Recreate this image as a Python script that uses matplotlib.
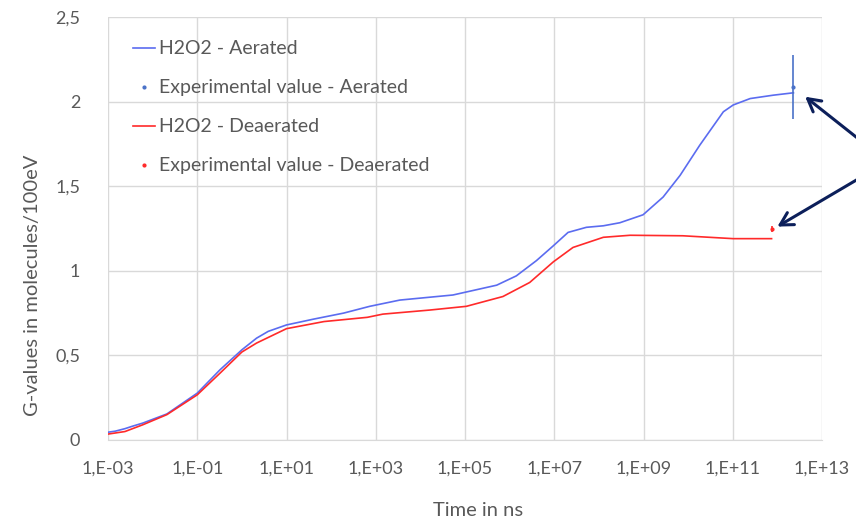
import numpy as np
import matplotlib.pyplot as plt
from matplotlib.lines import Line2D

# log10(time in ns) and G-values
aer_logt = [-3.0, -2.84, -2.62, -2.47, -2.22, -1.68, -1.0, -0.49, 0.0, 0.33, 0.59, 1.0,
            1.6, 2.28, 2.865, 3.54, 4.73, 5.71, 6.15, 6.60, 6.98, 7.31, 7.72, 8.10,
            8.47, 8.99, 9.44, 9.82, 10.26, 10.79, 11.01, 11.39, 11.91, 12.36]
aer_g = [0.046, 0.052, 0.067, 0.08, 0.10, 0.154, 0.277, 0.415, 0.533, 0.602, 0.642, 0.68,
         0.714, 0.75, 0.79, 0.827, 0.857, 0.915, 0.97, 1.06, 1.148, 1.227, 1.257, 1.266,
         1.284, 1.331, 1.436, 1.564, 1.742, 1.94, 1.98, 2.018, 2.038, 2.052]

deaer_logt = [-3.0, -2.62, -2.22, -1.68, -1.0, -0.49, 0.0, 0.33, 1.0, 1.84, 2.81, 3.16,
              4.21, 5.03, 5.85, 6.45, 6.98, 7.42, 8.10, 8.70, 9.88, 11.01, 11.87]
deaer_g = [0.035, 0.05, 0.09, 0.15, 0.267, 0.395, 0.52, 0.573, 0.658, 0.70, 0.725, 0.744,
           0.768, 0.79, 0.848, 0.931, 1.053, 1.138, 1.198, 1.21, 1.207, 1.19, 1.19]

exp_aer = (12.36, 2.085, 0.19)
exp_deaer = (11.87, 1.247, 0.02)

xtick_exp = [-3, -1, 1, 3, 5, 7, 9, 11, 13]
xtick_labels = ['1,E-03', '1,E-01', '1,E+01', '1,E+03', '1,E+05',
                '1,E+07', '1,E+09', '1,E+11', '1,E+13']
ytick_vals = [0, 0.5, 1, 1.5, 2, 2.5]
ytick_labels = ['0', '0,5', '1', '1,5', '2', '2,5']

blue = '#5b6cf0'
blue_exp = '#4a72c8'
red = '#ff2a2a'

plt.rcParams['font.family'] = ['Lato', 'DejaVu Sans']
W, H = 856, 522
fig = plt.figure(figsize=(W / 100, H / 100), dpi=100)
ax = fig.add_axes([108 / W, (H - 440) / H, (822 - 108) / W, (440 - 17) / H])

ax.plot(10.0 ** np.array(aer_logt), aer_g, color=blue, lw=1.2)
ax.errorbar(10.0 ** exp_aer[0], exp_aer[1], yerr=exp_aer[2], fmt='o', ms=2,
            color=blue_exp, ecolor=blue_exp, elinewidth=1.2, capsize=0)
ax.plot(10.0 ** np.array(deaer_logt), deaer_g, color=red, lw=1.2)
ax.errorbar(10.0 ** exp_deaer[0], exp_deaer[1], yerr=exp_deaer[2], fmt='o', ms=2,
            color=red, ecolor=red, elinewidth=1.2, capsize=0)

ax.set_xscale('log')
ax.set_xlim(1e-3, 1e13)
ax.set_ylim(0, 2.5)
ax.set_xticks([10.0 ** e for e in xtick_exp])
ax.set_xticklabels(xtick_labels)
ax.xaxis.set_minor_locator(plt.NullLocator())
ax.set_yticks(ytick_vals)
ax.set_yticklabels(ytick_labels)
ax.grid(True, color='#d9d9d9', lw=1)
ax.set_axisbelow(True)
for s in ['top', 'right', 'left']:
    ax.spines[s].set_visible(False)
ax.spines['bottom'].set_color('#d9d9d9')
ax.tick_params(axis='x', length=0, labelsize=13, labelcolor='#595959', pad=15)
ax.tick_params(axis='y', length=0, labelsize=13, labelcolor='#595959', pad=20)

handles = [
    Line2D([], [], color=blue, lw=1.2),
    Line2D([], [], color=blue_exp, ls='none', marker='o', ms=2),
    Line2D([], [], color=red, lw=1.2),
    Line2D([], [], color=red, ls='none', marker='o', ms=2),
]
labels = ['H2O2 - Aerated', 'Experimental value - Aerated',
          'H2O2 - Deaerated', 'Experimental value - Deaerated']
ax.legend(handles, labels, loc='upper left', bbox_to_anchor=(115.5 / W, 1 - 23 / H),
          bbox_transform=fig.transFigure, frameon=False, fontsize=14,
          labelspacing=1.13, handlelength=1.15, handletextpad=0.2,
          labelcolor='#595959')

fig.text(33 / W, 1 - 285 / H, 'G-values in molecules/100eV', rotation=90,
         ha='center', va='center', fontsize=14.5, color='#595959')
fig.text(478 / W, 1 - 511 / H, 'Time in ns', ha='center', va='center',
         fontsize=14.5, color='#595959')

# arrows pointing at the experimental values
arrow_kw = dict(arrowstyle='->,head_length=0.9,head_width=0.5', color='#0c1f5a', lw=2.2)
ax.annotate('', xy=(803 / W, 1 - 95 / H), xytext=(870 / W, 1 - 148 / H),
            xycoords='figure fraction', textcoords='figure fraction',
            arrowprops=arrow_kw, annotation_clip=False)
ax.annotate('', xy=(775 / W, 1 - 228 / H), xytext=(870 / W, 1 - 172 / H),
            xycoords='figure fraction', textcoords='figure fraction',
            arrowprops=arrow_kw, annotation_clip=False)

fig.savefig('out.png', dpi=100)
